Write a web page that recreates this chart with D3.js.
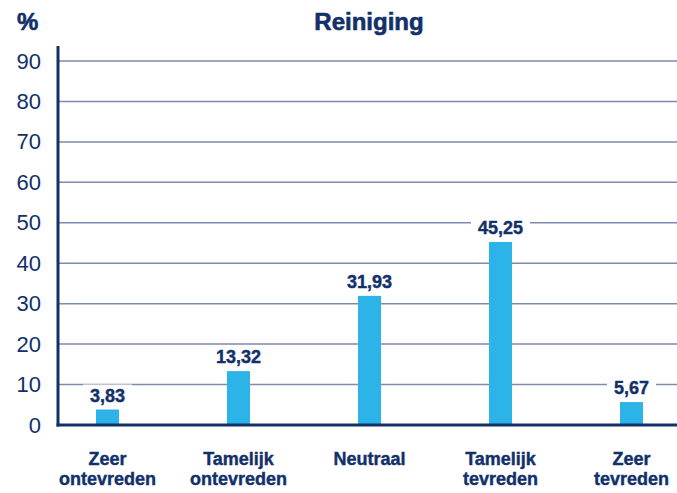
<!DOCTYPE html>
<html><head><meta charset="utf-8">
<script src="https://cdn.jsdelivr.net/npm/d3@7"></script>
<style>body{margin:0;background:#fff}svg{display:block}</style>
</head><body>
<svg id="c" width="677" height="493"></svg>
<script>
const categories = [["Zeer","ontevreden"],["Tamelijk","ontevreden"],["Neutraal"],["Tamelijk","tevreden"],["Zeer","tevreden"]];
const values = [3.83, 13.32, 31.93, 45.25, 5.67];
const valueLabels = ["3,83","13,32","31,93","45,25","5,67"];
const yTicks = [0,10,20,30,40,50,60,70,80,90];
const title = "Reiniging";
const unit = "%";

const navy = "#12306a", grid = "#7d8ab0", barColor = "#2cb4e8";
const font = "'Liberation Sans',Arial,Helvetica,sans-serif";
const svg = d3.select("#c");
const x = d3.scaleBand().domain(d3.range(categories.length)).range([42, 697]).paddingInner(0.825).paddingOuter(0.4125);
const y = d3.scaleLinear().domain([0, 90]).range([425, 61]);

// gridlines
svg.append("g").selectAll("line").data(yTicks.filter(d => d > 0)).join("line")
  .attr("x1", 58).attr("x2", 677).attr("y1", d => y(d)).attr("y2", d => y(d))
  .attr("stroke", grid).attr("stroke-width", 1.5);

// y axis
const ya = svg.append("g").attr("transform", "translate(58,0)")
  .call(d3.axisLeft(y).tickValues(yTicks).tickSize(0).tickPadding(17));
ya.select(".domain").remove();
ya.selectAll("text").attr("font-family", font).attr("font-size", 22).attr("fill", navy);
svg.append("line").attr("x1", 58).attr("x2", 58).attr("y1", 46).attr("y2", 426.5).attr("stroke", navy).attr("stroke-width", 3);

// bars
const bw = 23;
svg.append("g").selectAll("rect").data(values).join("rect")
  .attr("x", (d, i) => x(i) + x.bandwidth() / 2 - bw / 2).attr("width", bw)
  .attr("y", d => y(d)).attr("height", d => y(0) - y(d)).attr("fill", barColor);

// baseline
svg.append("line").attr("x1", 56.5).attr("x2", 677).attr("y1", y(0)).attr("y2", y(0)).attr("stroke", navy).attr("stroke-width", 3);

// value labels with white background
const vl = svg.append("g").selectAll("g").data(values).join("g")
  .attr("transform", (d, i) => `translate(${x(i) + x.bandwidth() / 2},${y(d) - 8})`);
vl.each(function (d, i) {
  const g = d3.select(this);
  const bg = g.append("rect").attr("fill", "#fff");
  const t = g.append("text").text(valueLabels[i]).attr("text-anchor", "middle")
    .attr("font-family", font).attr("font-weight", "bold").attr("font-size", 18).attr("fill", navy)
    .attr("stroke", navy).attr("stroke-width", 0.4);
  const b = t.node().getBBox();
  bg.attr("x", b.x - 7).attr("y", b.y - 1).attr("width", b.width + 14).attr("height", b.height + 2);
});

// category labels
const cl = svg.append("g").selectAll("text").data(categories).join("text")
  .attr("text-anchor", "middle").attr("font-family", font).attr("font-weight", "bold")
  .attr("font-size", 18).attr("fill", navy).attr("stroke", navy).attr("stroke-width", 0.4)
  .attr("transform", (d, i) => `translate(${x(i) + x.bandwidth() / 2},465)`);
cl.selectAll("tspan").data(d => d).join("tspan").attr("x", 0).attr("dy", (d, j) => j ? 20 : 0).text(d => d);

// title and unit
svg.append("text").attr("x", 369).attr("y", 30).attr("text-anchor", "middle")
  .attr("font-family", font).attr("font-weight", "bold").attr("font-size", 24)
  .attr("fill", navy).attr("stroke", navy).attr("stroke-width", 0.6).text(title);
svg.append("text").attr("x", 17).attr("y", 30)
  .attr("font-family", font).attr("font-weight", "bold").attr("font-size", 24)
  .attr("fill", navy).attr("stroke", navy).attr("stroke-width", 0.6).text(unit);
</script>
</body></html>
